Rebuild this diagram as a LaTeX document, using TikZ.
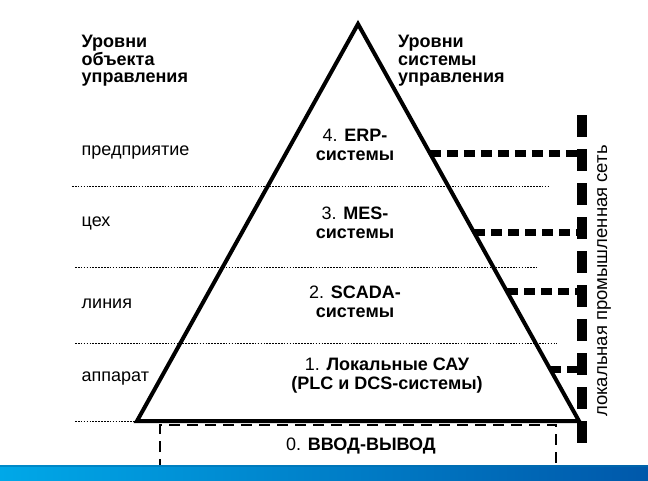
\documentclass[tikz,border=0pt]{standalone}
\usepackage{fontspec}
\setmainfont{Liberation Sans}
\usetikzlibrary{calc}
\definecolor{bandL}{RGB}{0,168,232}
\definecolor{bandR}{RGB}{0,88,170}
\definecolor{bandTop}{RGB}{0,110,170}
\begin{document}
\begin{tikzpicture}[x=1pt,y=-1pt,
  txt/.style={font=\fontsize{18}{19}\selectfont, inner sep=0pt},
  head/.style={font=\fontsize{18}{17.5}\selectfont\bfseries, align=left, anchor=north west, inner sep=0pt},
  lvl/.style={txt, anchor=base west},
  sys/.style={txt, align=center},
  pyr/.style={line width=4pt, line join=miter},
  sepline/.style={line width=1pt, dash pattern=on 1.6pt off 1.3pt, black},
  net/.style={line width=7pt, dash pattern=on 11pt off 6pt},
  bus/.style={line width=10pt, dash pattern=on 22pt off 12pt},
  io/.style={line width=1.3pt, dash pattern=on 11pt off 7pt}]

\useasboundingbox (0,0) rectangle (648,480);
\fill[white] (0,0) rectangle (648,480);

% separators between levels
\coordinate (d1a) at (72,186);  \coordinate (d1b) at (550,186);
\coordinate (d2a) at (75,267);  \coordinate (d2b) at (537,267);
\coordinate (d3a) at (75,343);  \coordinate (d3b) at (557,343);
\coordinate (d4a) at (75,421);
\draw[sepline] (d1a) -- (d1b);
\draw[sepline] (d2a) -- (d2b);
\draw[sepline] (d3a) -- (d3b);

% pyramid
\coordinate (apex) at (358,24);
\coordinate (bl) at (137,421);
\coordinate (br) at (579,421);
\draw[sepline] (d4a) -- (bl);
\draw[pyr] (apex) -- (br) -- (bl) -- cycle;

% I/O box (open at the bottom)
\coordinate (ioA) at (160,470);
\coordinate (ioB) at (160,425);
\coordinate (ioC) at (556,425);
\coordinate (ioD) at (556,470);
\draw[io] (ioA) -- (ioB) -- (ioC) -- (ioD);

% industrial network bus
\coordinate (bustop) at (582,115);
\coordinate (busbot) at (582,447);
\draw[bus] (bustop) -- (busbot);

\coordinate (n4) at ($(apex)!0.325!(br)$);
\coordinate (n3) at ($(apex)!0.526!(br)$);
\coordinate (n2) at ($(apex)!0.675!(br)$);
\coordinate (n1) at ($(apex)!0.869!(br)$);
\draw[net] (n4) -- (n4 -| bustop);
\draw[net] (n3) -- (n3 -| bustop);
\draw[net] (n2) -- (n2 -| bustop);
\draw[net] (n1) -- (n1 -| bustop);

% headers
\node[head] (hl) at (81.5,35) {Уровни\\объекта\\управления};
\node[head] (hr) at (398,35) {Уровни\\системы\\управления};

% object levels
\node[lvl] (l4) at (81.5,155) {предприятие};
\node[lvl] (l3) at (81.5,226) {цех};
\node[lvl] (l2) at (81.5,308) {линия};
\node[lvl] (l1) at (81.5,381) {аппарат};

% system levels
\node[sys] (s4) at (355,145) {4. \textbf{ERP-}\\\textbf{системы}};
\node[sys] (s3) at (355,223) {3. \textbf{MES-}\\\textbf{системы}};
\node[sys] (s2) at (355,302) {2. \textbf{SCADA-}\\\textbf{системы}};
\node[sys] (s1) at (387,376) {1. \textbf{Локальные САУ}\\\textbf{(PLC и DCS-системы)}};
\node[txt] (s0) at (361,446) {0. \textbf{ВВОД-ВЫВОД}};

% network label
\node[txt, font=\fontsize{18.5}{19}\selectfont, rotate=90] (lan) at (604,281) {локальная промышленная сеть};

% bottom band
\shade[left color=bandL, right color=bandR] (0,465) rectangle (648,480);
\fill[bandTop, opacity=0.5] (0,465) rectangle (648,466.5);
\end{tikzpicture}
\end{document}
